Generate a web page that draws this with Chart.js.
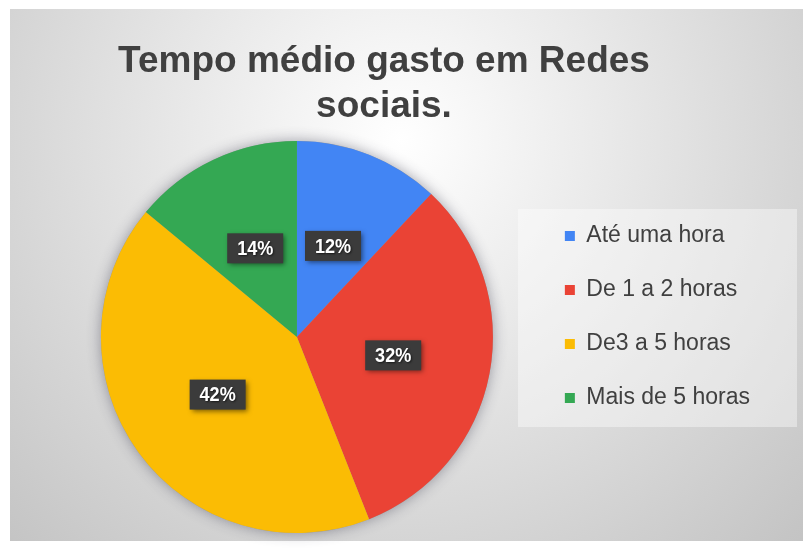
<!DOCTYPE html>
<html>
<head>
<meta charset="utf-8">
<script src="https://cdn.jsdelivr.net/npm/chart.js@4"></script>
<style>
  html, body { margin: 0; padding: 0; background: #fff; }
  #wrap { width: 803px; height: 548px; }
</style>
</head>
<body>
<div id="wrap"><canvas id="pieChart"></canvas></div>
<script>
// data
var categories = ['Até uma hora', 'De 1 a 2 horas', 'De3 a 5 horas', 'Mais de 5 horas'];
var shares = [12, 32, 42, 14];
var sliceColors = ['#4285F4', '#EA4335', '#FBBC04', '#34A853'];
var titleLines = ['Tempo médio gasto em Redes', 'sociais.'];

Chart.defaults.font.family = '"Liberation Sans", Arial, sans-serif';

// grey radial backdrop + the pale legend panel
var backdrop = {
    id: 'backdrop',
    beforeDraw: function (chart) {
        var ctx = chart.ctx;
        ctx.save();
        ctx.fillStyle = '#ffffff';
        ctx.fillRect(0, 0, chart.width, chart.height);
        var g = ctx.createRadialGradient(400, 140, 0, 400, 140, 640);
        g.addColorStop(0, '#ffffff');
        g.addColorStop(1, '#bcbcbc');
        ctx.fillStyle = g;
        ctx.fillRect(10, 9, 793, 532);
        ctx.fillStyle = 'rgba(255,255,255,0.4)';
        ctx.fillRect(518, 209, 279, 218);
        ctx.restore();
    }
};

// the title is centred on the whole plot box, not on the pie, so it is drawn here
var heading = {
    id: 'heading',
    afterDraw: function (chart) {
        var ctx = chart.ctx;
        ctx.save();
        ctx.fillStyle = '#404040';
        ctx.font = 'bold 37px "Liberation Sans", Arial, sans-serif';
        ctx.textAlign = 'center';
        ctx.textBaseline = 'alphabetic';
        titleLines.forEach(function (line, i) {
            ctx.fillText(line, 384, 72 + i * 45);
        });
        ctx.restore();
    }
};

// soft glow under the whole pie
var pieShadow = {
    id: 'pieShadow',
    beforeDatasetsDraw: function (chart) {
        var arc = chart.getDatasetMeta(0).data[0];
        if (!arc) return;
        var ctx = chart.ctx;
        ctx.save();
        ctx.beginPath();
        ctx.arc(arc.x, arc.y, arc.outerRadius, 0, Math.PI * 2);
        ctx.shadowColor = 'rgba(50,50,70,0.45)';
        ctx.shadowBlur = 14;
        ctx.fillStyle = '#999';
        ctx.fill();
        ctx.restore();
    }
};

// dark percentage boxes in the middle of each slice
var sliceLabels = {
    id: 'sliceLabels',
    afterDatasetsDraw: function (chart) {
        var ctx = chart.ctx;
        var meta = chart.getDatasetMeta(0);
        var data = chart.data.datasets[0].data;
        meta.data.forEach(function (arc, i) {
            var p = arc.tooltipPosition();
            var w = 56, h = 30;
            ctx.save();
            ctx.shadowColor = 'rgba(0,0,0,0.5)';
            ctx.shadowBlur = 5;
            ctx.shadowOffsetX = 2;
            ctx.shadowOffsetY = 2;
            ctx.fillStyle = '#3b3b3b';
            ctx.fillRect(p.x - w / 2, p.y - h / 2, w, h);
            ctx.translate(p.x, p.y + 1);
            ctx.scale(0.86, 1);   // excel label font is a bit condensed
            ctx.shadowColor = 'rgba(0,0,0,0.6)';
            ctx.shadowBlur = 2;
            ctx.shadowOffsetX = 1;
            ctx.shadowOffsetY = 1;
            ctx.fillStyle = '#ffffff';
            ctx.font = 'bold 21px "Liberation Sans", sans-serif';
            ctx.textAlign = 'center';
            ctx.textBaseline = 'middle';
            ctx.fillText(data[i] + '%', 0, 0);
            ctx.restore();
        });
    }
};

var ctx = document.getElementById('pieChart').getContext('2d');
var pieChart = new Chart(ctx, {
    type: 'pie',
    data: {
        labels: categories,
        datasets: [{
            data: shares,
            backgroundColor: sliceColors,
            borderWidth: 0
        }]
    },
    options: {
        responsive: true,
        maintainAspectRatio: false,
        animation: false,
        layout: {
            padding: { left: 60, right: 43, top: 141, bottom: 15 }
        },
        plugins: {
            title: { display: false },
            legend: {
                position: 'right',
                align: 'start',
                fullSize: false,
                // empty legend title only pushes the items down to where they are in the picture
                title: {
                    display: true,
                    text: '',
                    font: { size: 12, lineHeight: 1.2 },
                    padding: { top: 38.1, bottom: 0 }
                },
                labels: {
                    boxWidth: 10,
                    boxHeight: 10,
                    padding: 31,
                    color: '#404040',
                    font: { size: 23 }
                }
            },
            tooltip: { enabled: false }
        }
    },
    plugins: [backdrop, heading, pieShadow, sliceLabels]
});
</script>
</body>
</html>
